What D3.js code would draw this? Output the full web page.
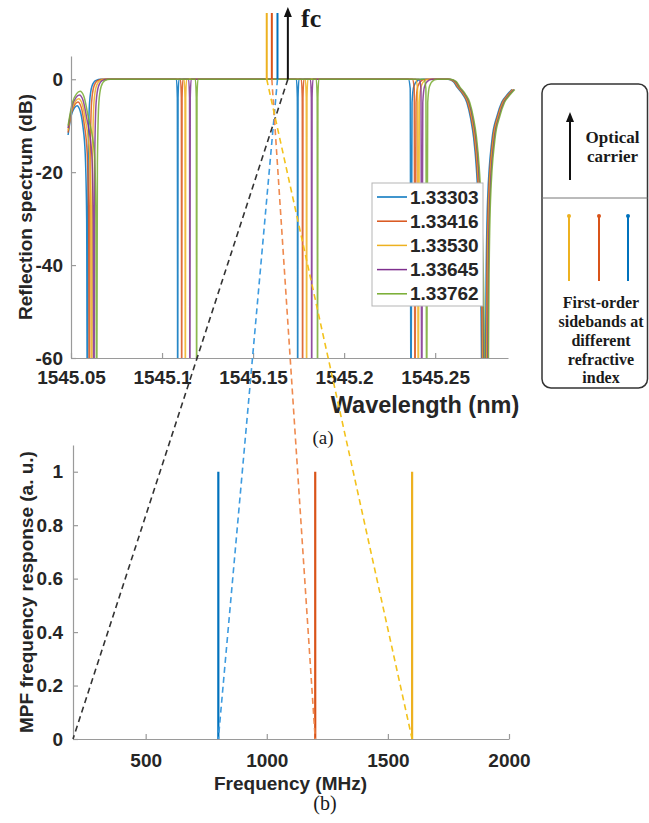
<!DOCTYPE html>
<meta charset="utf-8">
<style>
body { margin: 0; background: #fff; }
svg { display: block; font-family: "Liberation Sans", Arial, sans-serif; }
.axis path, .axis line { stroke: #9a9a9a; stroke-width: 1.2px; }
.axis text { font-family: "Liberation Sans", Arial, sans-serif; font-size: 19px; font-weight: bold; fill: #262626; }
.label { font-weight: bold; fill: #262626; }
.note { font-family: "Liberation Serif", "Times New Roman", serif; font-weight: bold; fill: #1a1a1a; }
.caption { font-family: "Liberation Serif", "Times New Roman", serif; fill: #1a1a1a; }
</style>
<svg width="649" height="823"></svg>
<script src="https://d3js.org/d3.v7.min.js"></script>
<script>
// legend entries (refractive index) and line colours
var indices = ["1.33303", "1.33416", "1.33530", "1.33645", "1.33762"];
var colors = ["#0072BD", "#D95319", "#EDB120", "#7E2F8E", "#77AC30"];

// reflection spectra: [wavelength (nm), dB]
var spec1 = [[1545.0484,-12],[1545.0500,-8.0],[1545.0518,-6.2],[1545.0533,-5.7],[1545.0550,-6.8],[1545.0565,-10],[1545.0578,-16],[1545.0586,-30],[1545.0590,-80],[1545.0594,-18],[1545.0602,-5],[1545.0615,-1.5],[1545.0635,-0.3],[1545.0665,0],
  [1545.1079,0],[1545.1084,-4],[1545.1086,-80],[1545.1088,-4],[1545.1093,0],
  [1545.1738,0],[1545.1743,-4],[1545.1745,-80],[1545.1747,-4],[1545.1752,0],
  [1545.2353,0],[1545.2363,-2],[1545.2367,-80],[1545.2373,-5],[1545.2383,-1.5],[1545.2407,-0.2],[1545.2427,0],
  [1545.2570,0],[1545.2600,-0.5],[1545.2620,-1.7],[1545.2650,-3.2],[1545.2674,-5],[1545.2695,-8.5],[1545.2711,-12.5],[1545.2726,-19],[1545.2740,-30],[1545.2752,-50],[1545.2760,-80],[1545.2772,-80],[1545.2780,-42],[1545.2788,-26],[1545.2812,-13],[1545.2839,-8],[1545.2866,-4.9],[1545.2894,-3.4],[1545.2921,-2.2]];
var spec2 = [[1545.0484,-11.5],[1545.0502,-7.3],[1545.0522,-5.4],[1545.0538,-4.9],[1545.0556,-6],[1545.0572,-9.5],[1545.0589,-16],[1545.0597,-30],[1545.0601,-80],[1545.0605,-18],[1545.0613,-5],[1545.0626,-1.5],[1545.0646,-0.3],[1545.0676,0],
  [1545.1101,0],[1545.1106,-4],[1545.1108,-80],[1545.1110,-4],[1545.1115,0],
  [1545.1765,0],[1545.1770,-4],[1545.1772,-80],[1545.1774,-4],[1545.1779,0],
  [1545.2375,0],[1545.2385,-2],[1545.2389,-80],[1545.2395,-5],[1545.2405,-1.5],[1545.2429,-0.2],[1545.2449,0],
  [1545.2574,0],[1545.2604,-0.5],[1545.2624,-1.7],[1545.2654,-3.2],[1545.2678,-5],[1545.2699,-8.5],[1545.2715,-12.5],[1545.2730,-19],[1545.2744,-30],[1545.2756,-50],[1545.2764,-80],[1545.2776,-80],[1545.2784,-42],[1545.2792,-26],[1545.2816,-13],[1545.2843,-8],[1545.2870,-4.9],[1545.2898,-3.4],[1545.2925,-2.2]];
var spec3 = [[1545.0484,-11],[1545.0504,-6.6],[1545.0525,-4.7],[1545.0542,-4.2],[1545.0561,-5.3],[1545.0580,-9],[1545.0602,-16],[1545.0610,-30],[1545.0614,-80],[1545.0618,-18],[1545.0626,-5],[1545.0639,-1.5],[1545.0659,-0.3],[1545.0689,0],
  [1545.1121,0],[1545.1126,-4],[1545.1128,-80],[1545.1130,-4],[1545.1135,0],
  [1545.1787,0],[1545.1792,-4],[1545.1794,-80],[1545.1796,-4],[1545.1801,0],
  [1545.2393,0],[1545.2403,-2],[1545.2407,-80],[1545.2413,-5],[1545.2423,-1.5],[1545.2447,-0.2],[1545.2467,0],
  [1545.2578,0],[1545.2608,-0.5],[1545.2628,-1.7],[1545.2658,-3.2],[1545.2682,-5],[1545.2703,-8.5],[1545.2719,-12.5],[1545.2734,-19],[1545.2748,-30],[1545.2760,-50],[1545.2768,-80],[1545.2780,-80],[1545.2788,-42],[1545.2796,-26],[1545.2820,-13],[1545.2847,-8],[1545.2874,-4.9],[1545.2902,-3.4],[1545.2929,-2.2]];
var spec4 = [[1545.0484,-10.5],[1545.0506,-5.8],[1545.0528,-3.9],[1545.0546,-3.4],[1545.0566,-4.5],[1545.0587,-8.5],[1545.0614,-16],[1545.0622,-30],[1545.0626,-80],[1545.0630,-18],[1545.0638,-5],[1545.0651,-1.5],[1545.0671,-0.3],[1545.0701,0],
  [1545.1146,0],[1545.1151,-4],[1545.1153,-80],[1545.1155,-4],[1545.1160,0],
  [1545.1815,0],[1545.1820,-4],[1545.1822,-80],[1545.1824,-4],[1545.1829,0],
  [1545.2412,0],[1545.2422,-2],[1545.2426,-80],[1545.2432,-5],[1545.2442,-1.5],[1545.2466,-0.2],[1545.2486,0],
  [1545.2582,0],[1545.2612,-0.5],[1545.2632,-1.7],[1545.2662,-3.2],[1545.2686,-5],[1545.2707,-8.5],[1545.2723,-12.5],[1545.2738,-19],[1545.2752,-30],[1545.2764,-50],[1545.2772,-80],[1545.2784,-80],[1545.2792,-42],[1545.2800,-26],[1545.2824,-13],[1545.2851,-8],[1545.2878,-4.9],[1545.2906,-3.4],[1545.2933,-2.2]];
var spec5 = [[1545.0484,-10],[1545.0508,-5],[1545.0531,-3.1],[1545.0550,-2.6],[1545.0571,-3.7],[1545.0594,-8],[1545.0629,-16],[1545.0637,-30],[1545.0641,-80],[1545.0645,-18],[1545.0653,-5],[1545.0666,-1.5],[1545.0686,-0.3],[1545.0716,0],
  [1545.1183,0],[1545.1188,-4],[1545.1190,-80],[1545.1192,-4],[1545.1197,0],
  [1545.1847,0],[1545.1852,-4],[1545.1854,-80],[1545.1856,-4],[1545.1861,0],
  [1545.2439,0],[1545.2449,-2],[1545.2453,-80],[1545.2459,-5],[1545.2469,-1.5],[1545.2493,-0.2],[1545.2513,0],
  [1545.2586,0],[1545.2616,-0.5],[1545.2636,-1.7],[1545.2666,-3.2],[1545.2690,-5],[1545.2711,-8.5],[1545.2727,-12.5],[1545.2742,-19],[1545.2756,-30],[1545.2768,-50],[1545.2776,-80],[1545.2788,-80],[1545.2796,-42],[1545.2804,-26],[1545.2828,-13],[1545.2855,-8],[1545.2882,-4.9],[1545.2910,-3.4],[1545.2937,-2.2]];
var spectra = [spec1, spec2, spec3, spec4, spec5];

var wlTicks = [1545.05, 1545.1, 1545.15, 1545.2, 1545.25];
var dbTicks = [0, -20, -40, -60];

// optical carrier and first-order sidebands drawn above panel (a)
var carrierWl = 1545.1691;
var sidebandWl = [1545.1634, 1545.1603, 1545.1575];
var sidebandColors = ["#0072BD", "#D95319", "#EDB120"];
var dashColors = ["#3d9be0", "#ef8a4f", "#f3c21c"];

// MPF frequency response, panel (b)
var mpfFreq = [800, 1200, 1600];
var mpfAmp = [1, 1, 1];
var freqTicks = [500, 1000, 1500, 2000];
var ampTicks = [0, 0.2, 0.4, 0.6, 0.8, 1];

var svg = d3.select("svg");

// ---------- panel (a) ----------
var x1 = d3.scaleLinear().domain([1545.05, 1545.29]).range([71, 508]);
var y1 = d3.scaleLinear().domain([-60, 5]).range([358, 56]);

svg.append("defs").append("clipPath").attr("id", "clipA")
  .append("rect").attr("x", 0).attr("y", 0).attr("width", 649).attr("height", y1(-60));

var line1 = d3.line()
    .x(function(d) { return x1(d[0]); })
    .y(function(d) { return y1(d[1]); })
    .curve(d3.curveMonotoneX);

svg.append("g").attr("clip-path", "url(#clipA)")
  .selectAll("path")
  .data(spectra)
  .enter().append("path")
    .attr("d", line1)
    .attr("fill", "none")
    .attr("stroke", function(d, i) { return colors[i]; })
    .attr("stroke-width", 1.5)
    .attr("stroke-opacity", 0.85);

svg.append("g").attr("class", "axis")
    .attr("transform", "translate(0," + y1(-60) + ")")
    .call(d3.axisBottom(x1).tickValues(wlTicks).tickSizeInner(-5).tickSizeOuter(0).tickPadding(12.5)
      .tickFormat(function(d) { return String(+d.toFixed(2)); }));

svg.append("g").attr("class", "axis")
    .attr("transform", "translate(" + x1.range()[0] + ",0)")
    .call(d3.axisLeft(y1).tickValues(dbTicks).tickSizeInner(-5).tickSizeOuter(0).tickPadding(8)
      .tickFormat(function(d) { return String(d); }));

svg.append("text").attr("class", "label")
    .attr("transform", "translate(25,207) rotate(-90)")
    .attr("text-anchor", "middle").attr("dy", "0.35em")
    .style("font-size", "19px")
    .text("Reflection spectrum (dB)");

svg.append("text").attr("class", "label")
    .attr("x", 425).attr("y", 413)
    .attr("text-anchor", "middle")
    .style("font-size", "23.5px")
    .text("Wavelength (nm)");

// legend
var legend = svg.append("g").attr("transform", "translate(372,183)");
legend.append("rect").attr("width", 111).attr("height", 123)
    .attr("fill", "#fff").attr("stroke", "#b5b5b5").attr("stroke-width", 1);
indices.forEach(function(n, i) {
  var ly = 14 + i * 24.2;
  legend.append("line").attr("x1", 5).attr("x2", 35).attr("y1", ly).attr("y2", ly)
      .attr("stroke", colors[i]).attr("stroke-width", 1.5);
  legend.append("text").attr("class", "label").attr("x", 38).attr("y", ly).attr("dy", "0.35em")
      .style("font-size", "19px").text(n);
});

// ---------- panel (b) ----------
var x2 = d3.scaleLinear().domain([200, 2000]).range([73, 509]);
var y2 = d3.scaleLinear().domain([0, 1.1]).range([739, 445]);

svg.append("g").attr("class", "axis")
    .attr("transform", "translate(0," + y2(0) + ")")
    .call(d3.axisBottom(x2).tickValues(freqTicks).tickSizeInner(-5).tickSizeOuter(0).tickPadding(14.5)
      .tickFormat(function(d) { return String(d); }));

svg.append("g").attr("class", "axis")
    .attr("transform", "translate(" + x2.range()[0] + ",0)")
    .call(d3.axisLeft(y2).tickValues(ampTicks).tickSizeInner(-5).tickSizeOuter(0).tickPadding(10)
      .tickFormat(function(d) { return String(d); }));

svg.append("g").selectAll("line")
  .data(mpfFreq)
  .enter().append("line")
    .attr("x1", function(d) { return x2(d); })
    .attr("x2", function(d) { return x2(d); })
    .attr("y1", y2(0))
    .attr("y2", function(d, i) { return y2(mpfAmp[i]); })
    .attr("stroke", function(d, i) { return sidebandColors[i]; })
    .attr("stroke-width", 2.2);

svg.append("text").attr("class", "label")
    .attr("transform", "translate(26,592) rotate(-90)")
    .attr("text-anchor", "middle").attr("dy", "0.35em")
    .style("font-size", "19px")
    .text("MPF frequency response (a. u.)");

svg.append("text").attr("class", "label")
    .attr("x", 290.5).attr("y", 790)
    .attr("text-anchor", "middle")
    .style("font-size", "19px")
    .text("Frequency (MHz)");

// ---------- carrier / sideband markers and dashed links ----------
var topY = y1(0);
svg.append("line")
    .attr("x1", x1(carrierWl)).attr("x2", x2(200))
    .attr("y1", topY).attr("y2", y2(0))
    .attr("stroke", "#333").attr("stroke-width", 1.6).attr("stroke-dasharray", "6,4");

sidebandWl.forEach(function(w, i) {
  svg.append("line")
      .attr("x1", x1(w)).attr("x2", x2(mpfFreq[i]))
      .attr("y1", topY).attr("y2", y2(0))
      .attr("stroke", dashColors[i]).attr("stroke-width", 1.6).attr("stroke-dasharray", "6,4");
  svg.append("line")
      .attr("x1", x1(w)).attr("x2", x1(w))
      .attr("y1", topY).attr("y2", 13)
      .attr("stroke", sidebandColors[i]).attr("stroke-width", 2);
});

var cx = x1(carrierWl);
svg.append("line").attr("x1", cx).attr("x2", cx).attr("y1", topY).attr("y2", 16)
    .attr("stroke", "#111").attr("stroke-width", 2);
svg.append("path").attr("d", "M" + cx + ",7 L" + (cx - 4) + ",17 L" + (cx + 4) + ",17 Z").attr("fill", "#111");

svg.append("text").attr("class", "note").attr("x", 301).attr("y", 27)
    .style("font-size", "26px").text("fc");

svg.append("text").attr("class", "caption").attr("x", 323).attr("y", 444)
    .attr("text-anchor", "middle").style("font-size", "19px").text("(a)");
svg.append("text").attr("class", "caption").attr("x", 325).attr("y", 810)
    .attr("text-anchor", "middle").style("font-size", "20px").text("(b)");

// ---------- explanation box on the right ----------
var box = svg.append("g");
box.append("rect").attr("x", 542).attr("y", 84).attr("width", 105.5).attr("height", 304).attr("rx", 9)
    .attr("fill", "none").attr("stroke", "#333").attr("stroke-width", 1.5);
box.append("line").attr("x1", 542).attr("x2", 647.5).attr("y1", 198).attr("y2", 198)
    .attr("stroke", "#777").attr("stroke-width", 1);
box.append("line").attr("x1", 570).attr("x2", 570).attr("y1", 180).attr("y2", 120)
    .attr("stroke", "#111").attr("stroke-width", 2);
box.append("path").attr("d", "M570,112 L566,122 L574,122 Z").attr("fill", "#111");
box.append("text").attr("class", "note").attr("x", 612.5).attr("y", 143)
    .attr("text-anchor", "middle").style("font-size", "17px").text("Optical");
box.append("text").attr("class", "note").attr("x", 612.5).attr("y", 162)
    .attr("text-anchor", "middle").style("font-size", "17px").text("carrier");

var iconX = [569, 599, 628];
var iconColors = ["#EDB120", "#D95319", "#0072BD"];
iconX.forEach(function(ix, i) {
  box.append("line").attr("x1", ix).attr("x2", ix).attr("y1", 216).attr("y2", 281)
      .attr("stroke", iconColors[i]).attr("stroke-width", 2);
  box.append("circle").attr("cx", ix).attr("cy", 216).attr("r", 2).attr("fill", iconColors[i]);
});

var boxLines = ["First-order", "sidebands at", "different", "refractive", "index"];
var boxBase = [308, 327, 346, 365, 383];
boxLines.forEach(function(t, i) {
  box.append("text").attr("class", "note").attr("x", 601).attr("y", boxBase[i])
      .attr("text-anchor", "middle").style("font-size", "16px").text(t);
});
</script>
